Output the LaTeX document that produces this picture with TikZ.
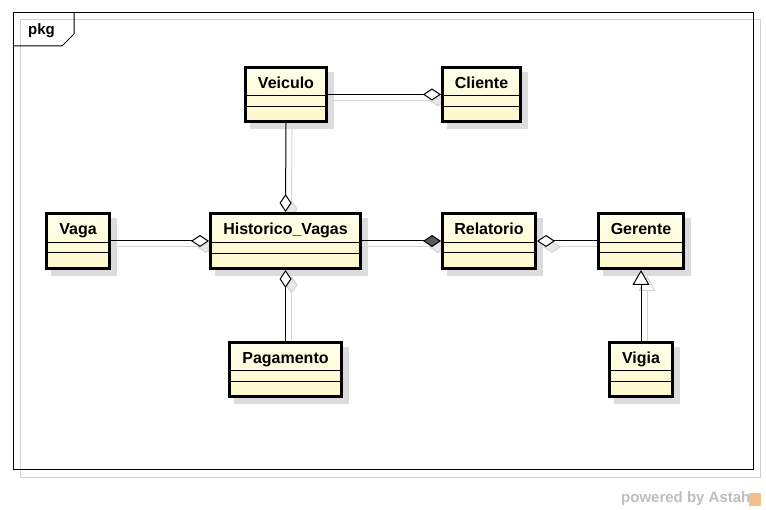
\documentclass[tikz,border=0pt]{standalone}
\usepackage{fontspec}
\setmainfont{Liberation Sans}
\usetikzlibrary{arrows.meta}
\pgfdeclarelayer{shadowlayer}
\pgfsetlayers{shadowlayer,main}
\definecolor{boxtop}{HTML}{FFFFEA}
\definecolor{boxbot}{HTML}{FFF8CC}
\definecolor{shadowgray}{HTML}{DCDCDC}
\definecolor{lineshadow}{HTML}{D4D4D4}
\definecolor{shadowfill}{HTML}{E8E8E8}
\definecolor{framegray}{HTML}{D0D0D0}
\definecolor{wmgray}{HTML}{BEBEBE}
\definecolor{wmorange}{HTML}{F7C08A}
\definecolor{compfill}{HTML}{5A5A5A}
\tikzset{
  umlbox/.style={draw=black, line width=3pt, top color=boxtop, bottom color=boxbot, inner sep=0pt},
  boxshadow/.style={fill=shadowgray},
  sepline/.style={draw=black, line width=1pt},
  clsname/.style={anchor=base, inner sep=0pt, font=\bfseries\fontsize{16}{19}\selectfont},
  assoc/.style={draw=black, line width=1pt},
  cshadow/.style={draw=lineshadow, line width=1pt},
  aggtip/.style={-{Diamond[length=18pt,width=12pt,fill=white]}},
  comptip/.style={-{Diamond[length=18pt,width=12pt,fill=compfill]}},
  gentip/.style={-{Triangle[length=15pt,width=17pt,fill=white]}},
  shtip/.style={-{Diamond[length=18pt,width=12pt,fill=shadowfill,color=lineshadow]}},
  shgentip/.style={-{Triangle[length=15pt,width=17pt,fill=white,color=lineshadow]}}
}
\newcommand{\umlcls}[8]{%
  \begin{pgfonlayer}{shadowlayer}
    \fill[boxshadow] (#2+6,#3+6) rectangle (#4+6,#5+6);
  \end{pgfonlayer}
  \node[umlbox, minimum width={#4-#2-3}, minimum height={#5-#3-3}] (#1) at ({(#2+#4)/2},{(#3+#5)/2}) {};
  \draw[sepline] (#2+2,#6) -- (#4-2,#6) (#2+2,#7) -- (#4-2,#7);
  \node[clsname] (#1-name) at ({(#2+#4)/2},{#3+22.5}) {#8};
}
\begin{document}
\begin{tikzpicture}[x=1pt,y=-1pt]
\useasboundingbox (0,0) rectangle (766,510);
% frame
\draw[framegray, line width=1pt] (20,20) rectangle (760,477);
\draw[black, line width=1pt] (13,13) rectangle (753,470);
\draw[black, line width=1pt] (13,46) -- (62,46) -- (74,34) -- (74,13);
\node[anchor=base west, inner sep=0pt, font=\bfseries\fontsize{15}{18}\selectfont] (pkg) at (28,35) {pkg};
% classes
\umlcls{veiculo}{244}{66}{328}{123}{96}{107}{Veiculo}
\umlcls{cliente}{441}{66}{522}{123}{96}{107}{Cliente}
\umlcls{vaga}{45}{212}{111}{270}{243}{253}{Vaga}
\umlcls{hist}{209}{212}{362}{270}{243}{254}{Historico\_Vagas}
\umlcls{relatorio}{441}{212}{537}{270}{243}{253}{Relatorio}
\umlcls{gerente}{597}{212}{685}{270}{243}{253}{Gerente}
\umlcls{vigia}{608}{341}{674}{398}{371}{382}{Vigia}
\umlcls{pagamento}{228}{341}{343}{398}{371}{382}{Pagamento}
% connector shadows
\begin{pgfonlayer}{shadowlayer}
  \draw[cshadow, shtip] ([xshift=6pt,yshift=-6pt]veiculo.east) -- ([xshift=6pt,yshift=-6pt]cliente.west);
  \draw[cshadow, shtip] ([xshift=6pt,yshift=-6pt]veiculo.south) -- ([xshift=6pt,yshift=-6pt]hist.north);
  \draw[cshadow, shtip] ([xshift=6pt,yshift=-6pt]vaga.east) -- ([xshift=6pt,yshift=-6pt]hist.west);
  \draw[cshadow, shtip] ([xshift=6pt,yshift=-6pt]pagamento.north) -- ([xshift=6pt,yshift=-6pt]hist.south);
  \draw[cshadow, shtip] ([xshift=6pt,yshift=-6pt]hist.east) -- ([xshift=6pt,yshift=-6pt]relatorio.west);
  \draw[cshadow, shtip] ([xshift=6pt,yshift=-6pt]gerente.west) -- ([xshift=6pt,yshift=-6pt]relatorio.east);
  \draw[cshadow, shgentip] ([xshift=6pt,yshift=-6pt]vigia.north) -- ([xshift=6pt,yshift=-6pt]gerente.south);
\end{pgfonlayer}
% connectors
\draw[assoc, aggtip] (veiculo.east) -- (cliente.west);
\draw[assoc, aggtip] (veiculo.south) -- (hist.north);
\draw[assoc, aggtip] (vaga.east) -- (hist.west);
\draw[assoc, aggtip] (pagamento.north) -- (hist.south);
\draw[assoc, comptip] (hist.east) -- (relatorio.west);
\draw[assoc, aggtip] (gerente.west) -- (relatorio.east);
\draw[assoc, gentip] (vigia.north) -- (gerente.south);
% watermark
\node[anchor=base west, inner sep=0pt, text=wmgray, font=\bfseries\fontsize{15}{18}\selectfont] (wm) at (621,502) {powered by Astah};
\fill[wmorange] (749,493) rectangle (761,506);
\end{tikzpicture}
\end{document}
